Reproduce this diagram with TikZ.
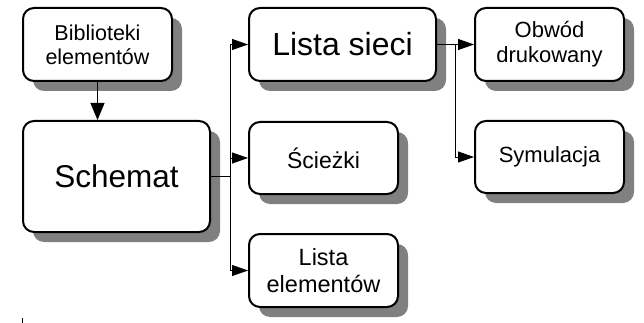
\documentclass[tikz,border=0pt]{standalone}
\usepackage{fontspec}
\setmainfont{Liberation Sans}
\usetikzlibrary{shadows,arrows.meta}
\begin{document}
\begin{tikzpicture}[x=1pt,y=-1pt,
  box/.style={draw=black, line width=2pt, fill=white, rounded corners=11pt,
    align=center, inner sep=0pt,
    drop shadow={fill=black!50, opacity=1, shadow xshift=10pt, shadow yshift=-10pt}},
  conn/.style={draw=black, line width=0.9pt},
  arr/.style={conn, -{Triangle[length=16pt,width=11pt]}},
  darr/.style={conn, -{Triangle[length=17pt,width=14pt]}},
  fs/.style n args={2}{font=\fontsize{#1}{#2}\selectfont}
]
\useasboundingbox (0,0) rectangle (644,323);
\node[box, fs={21.5}{24}, minimum width=149pt, minimum height=73pt] (bib) at (97.5,44.5) {Biblioteki\\elementów};
\node[box, fs={31.5}{36}, minimum width=187pt, minimum height=111pt] (sch) at (116.5,176.5) {Schemat};
\node[box, fs={32}{36}, minimum width=187pt, minimum height=73pt] (ls) at (342.5,44.5) {Lista sieci};
\node[box, fs={23}{26}, minimum width=149pt, minimum height=72pt] (sc) at (323.5,158) {Ścieżki};
\node[box, fs={23.5}{26.5}, minimum width=149pt, minimum height=73pt] (le) at (323.5,270.5) {Lista\\elementów};
\node[box, fs={22}{25}, minimum width=149pt, minimum height=73pt] (ob) at (549.5,44.5) {Obwód\\drukowany};
\node[box, fs={22}{25}, minimum width=149pt, minimum height=72pt] (sy) at (549.5,157) {Symulacja};
\coordinate (t1) at (230,0);
\coordinate (t2) at (455,0);
\draw[darr] (bib.south) -- (bib.south |- sch.north);
\draw[conn] (sch.east) -- (sch.east -| t1);
\draw[arr] (sch.east -| t1) |- (ls.west);
\draw[arr] (sch.east -| t1) |- (sc.west);
\draw[arr] (sch.east -| t1) |- (le.west);
\draw[arr] (ls.east) -- (ob.west);
\draw[arr] (ls.east -| t2) |- (sy.west);
\coordinate (k1) at (22,318);
\coordinate (k2) at (22,323);
\draw[line width=0.6pt] (k1) -- (k2);
\end{tikzpicture}
\end{document}
